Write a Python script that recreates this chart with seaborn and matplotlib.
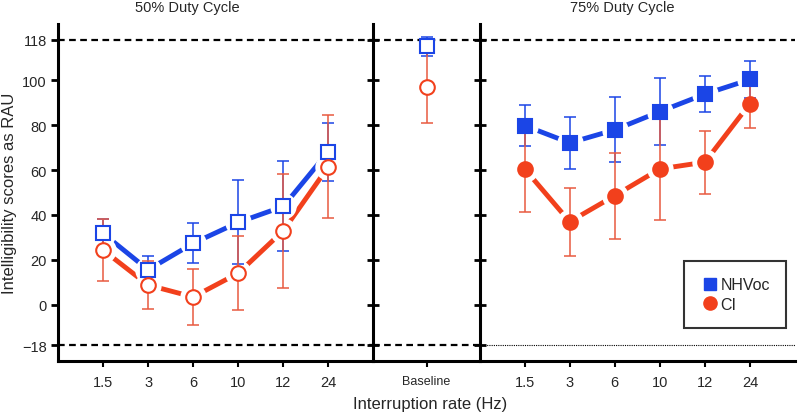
import numpy as np
import pandas as pd
import seaborn as sns
import matplotlib.pyplot as plt
from matplotlib.lines import Line2D

# interruption rates (Hz) used as categories
rates = ['1.5', '3', '6', '10', '12', '24']

# 50% duty cycle: means and error (+/-)
nhvoc_50 = [31.8, 15.6, 27.4, 36.7, 43.8, 68.2]
nhvoc_50_err = [6.2, 6.2, 9.0, 18.7, 20.0, 12.9]
ci_50 = [24.4, 8.8, 3.5, 14.1, 33.0, 61.5]
ci_50_err = [14.0, 10.5, 12.4, 16.5, 25.3, 23.0]

# baseline
nhvoc_base, nhvoc_base_err = 115.0, 4.2
ci_base, ci_base_err = 97.0, 16.0

# 75% duty cycle
nhvoc_75 = [79.8, 72.1, 77.9, 86.0, 93.8, 100.3]
nhvoc_75_err = [9.0, 11.7, 14.4, 14.9, 8.0, 8.3]
ci_75 = [60.5, 37.0, 48.6, 60.5, 63.5, 89.6]
ci_75_err = [19.0, 15.2, 19.2, 22.6, 14.0, 11.0]

yticks = [-18, 0, 20, 40, 60, 80, 100, 118]

blue = '#1b45e6'
red = '#f2401c'
red_err = '#e85a40'

sns.set_style('white')
plt.rcParams['font.family'] = ['Liberation Sans', 'DejaVu Sans']

fig = plt.figure(figsize=(7.98, 4.14), dpi=100)
gs = fig.add_gridspec(1, 3, width_ratios=[315, 106, 315], wspace=0,
                      left=58 / 798, right=795 / 798, bottom=1 - 362 / 414, top=1 - 25 / 414)
ax0 = fig.add_subplot(gs[0])
ax1 = fig.add_subplot(gs[1], sharey=ax0)
ax2 = fig.add_subplot(gs[2], sharey=ax0)

pos = np.arange(1, len(rates) + 1)


def draw_group(ax, x, y, err, color, ecolor, marker, filled):
    df = pd.DataFrame({'x': x, 'y': y})
    sns.lineplot(data=df, x='x', y='y', ax=ax, color=color, linewidth=3.5,
                 zorder=1, legend=False)
    # white halo to break the line around each marker
    ax.plot(x, y, linestyle='none', marker='o', markersize=19, color='white',
            markeredgewidth=0, zorder=2)
    ax.errorbar(x, y, yerr=err, fmt='none', ecolor=ecolor, elinewidth=1.1,
                capsize=4, capthick=1.1, zorder=3)
    ax.plot(x, y, linestyle='none', marker=marker, markersize=10 if marker == 's' else 10.5,
            markerfacecolor=color if filled else 'white', markeredgecolor=color,
            markeredgewidth=1.5, zorder=4)


draw_group(ax0, pos, nhvoc_50, nhvoc_50_err, blue, blue, 's', False)
draw_group(ax0, pos, ci_50, ci_50_err, red, red_err, 'o', False)
draw_group(ax2, pos, nhvoc_75, nhvoc_75_err, blue, blue, 's', True)
draw_group(ax2, pos, ci_75, ci_75_err, red, red_err, 'o', True)

# baseline
for val, err, col, ecol, mk in [(nhvoc_base, nhvoc_base_err, blue, blue, 's'),
                                (ci_base, ci_base_err, red, red_err, 'o')]:
    ax1.errorbar([0], [val], yerr=[err], fmt='none', ecolor=ecol, elinewidth=1.1,
                 capsize=4, capthick=1.1, zorder=3)
    ax1.plot([0], [val], linestyle='none', marker=mk, markersize=10 if mk == 's' else 10.5,
             markerfacecolor='white', markeredgecolor=col, markeredgewidth=1.5, zorder=4)

# reference lines
for ax in (ax0, ax1):
    ax.axhline(118, color='black', linestyle=(0, (3, 2)), linewidth=1.6, zorder=0)
    ax.axhline(-18, color='black', linestyle=(0, (3, 2)), linewidth=1.6, zorder=0)
ax2.axhline(118, color='black', linestyle=(0, (3, 2)), linewidth=1.6, zorder=0)
ax2.axhline(-18, color='black', linestyle=(0, (1, 1)), linewidth=0.8, zorder=0)

ax0.set_ylim(-25, 125)
ax0.set_yticks(yticks)
ax0.set_xlim(0, 7)
ax2.set_xlim(0, 7)
ax1.set_xlim(-1.18, 1.18)
ax0.set_xticks(pos)
ax0.set_xticklabels(rates)
ax2.set_xticks(pos)
ax2.set_xticklabels(rates)
ax1.set_xticks([0])
ax1.set_xticklabels(['Baseline'], fontsize=9)

for ax in (ax0, ax1, ax2):
    for s in ['top', 'right']:
        ax.spines[s].set_visible(False)
    for s in ['left', 'bottom']:
        ax.spines[s].set_visible(True)
        ax.spines[s].set_color('black')
        ax.spines[s].set_linewidth(2.2)
    ax.set_xlabel('')
    ax.set_ylabel('')
    ax.tick_params(axis='x', direction='out', length=4, width=1.5, color='black',
                   labelsize=10.5, pad=6, bottom=True)
ax1.tick_params(axis='x', labelsize=9)

ax0.tick_params(axis='y', direction='out', length=5, width=2, color='black',
                labelsize=10.5, left=True, pad=3)
for ax in (ax1, ax2):
    ax.tick_params(axis='y', direction='inout', length=9, width=2, color='black',
                   left=True, labelleft=False)

fig.text(187 / 798, 1 - 8 / 414, '50% Duty Cycle', ha='center', va='center', fontsize=10.5)
fig.text(622 / 798, 1 - 8 / 414, '75% Duty Cycle', ha='center', va='center', fontsize=10.5)
ax0.set_ylabel('Intelligibility scores as RAU', fontsize=12, labelpad=4)
fig.text(430 / 798, 0.004, 'Interruption rate (Hz)', ha='center', va='bottom', fontsize=12)

handles = [Line2D([], [], linestyle='none', marker='s', markersize=8, color=blue),
           Line2D([], [], linestyle='none', marker='o', markersize=9.5, color=red)]
leg = ax2.legend(handles, ['NHVoc', 'CI'], loc='lower left', bbox_to_anchor=(0.648, 0.098),
                 frameon=True, fancybox=False, fontsize=11.5, handletextpad=0.1,
                 borderpad=1.0, labelspacing=0.3, handlelength=1.2, borderaxespad=0)
leg.get_frame().set_edgecolor('black')
leg.get_frame().set_linewidth(1.5)

fig.savefig('out.png', dpi=100)
